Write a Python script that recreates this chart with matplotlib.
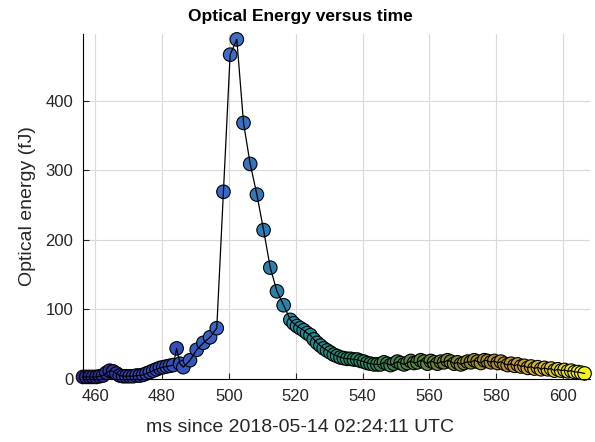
import numpy as np
import matplotlib
matplotlib.use("Agg")
import matplotlib.pyplot as plt
from matplotlib.colors import LinearSegmentedColormap

# event times (ms) and optical energy (fJ)
t_ms = [456.4, 457.4, 458.4, 459.4, 460.4, 461.4, 462.4, 463.4, 464.4, 465.4,
        466.4, 467.4, 468.4, 469.4, 470.4, 471.4, 472.4, 473.4, 474.4, 475.4,
        476.4, 477.4, 478.4, 479.4, 480.4, 481.4, 482.4, 483.4, 484.4, 485.4,
        486.4, 488.4, 490.4, 492.4, 494.4, 496.4,
        498.4, 500.4, 502.4, 504.4, 506.4, 508.4, 510.4, 512.4, 514.4, 516.4,
        518.4, 519.4, 520.4, 521.4, 522.4, 523.4, 524.4, 525.4, 526.4, 527.4,
        528.4, 529.4, 530.4, 531.4, 532.4, 533.4, 534.4, 535.4, 536.4, 537.4,
        538.4, 539.4, 540.4, 541.4, 542.4, 543.4, 544.4, 545.4, 546.4, 547.4,
        548.4, 549.4, 550.4, 551.4, 552.4, 553.4, 554.4, 555.4, 556.4, 557.4,
        558.4, 559.4, 560.4, 561.4, 562.4, 563.4, 564.4, 565.4, 566.4, 567.4,
        568.4, 569.4, 570.4, 571.4, 572.4, 573.4, 574.4, 575.4, 576.4, 577.4,
        578.4, 579.4, 580.4, 581.4, 582.4, 583.4, 584.4, 585.4, 586.4, 587.4,
        588.4, 589.4, 590.4, 591.4, 592.4, 593.4, 594.4, 595.4, 596.4, 597.4,
        598.4, 599.4, 600.4, 601.4, 602.4, 603.4, 604.4, 605.4, 606.4]
energy_fj = [3, 3, 3, 3, 3, 4, 5, 9, 12, 11,
             8, 5, 4, 4, 4, 4, 5, 5, 6, 8,
             10, 12, 14, 16, 17, 18, 19, 20, 44, 22,
             17, 27, 42, 52, 60, 73,
             269, 466, 488, 368, 309, 265, 214, 160, 126, 106,
             85, 80, 76, 73, 70, 66, 63, 57, 52, 48,
             44, 41, 38, 35, 33, 31, 30, 29, 29, 28,
             28, 26, 25, 23, 22, 21, 21, 21, 24, 22,
             20, 22, 25, 23, 21, 23, 26, 23, 24, 27,
             25, 22, 26, 24, 22, 25, 24, 27, 25, 22,
             24, 21, 23, 25, 24, 27, 25, 23, 27, 26,
             24, 26, 23, 25, 22, 20, 22, 19, 21, 18,
             19, 16, 18, 15, 17, 14, 16, 14, 15, 12,
             14, 12, 13, 11, 12, 10, 10, 9, 8]

xticks = [460, 480, 500, 520, 540, 560, 580, 600]
yticks = [0, 100, 200, 300, 400]

# parula-like map
parula = LinearSegmentedColormap.from_list("parula_like", [
    (0.00, (0.18, 0.16, 0.52)),
    (0.15, (0.20, 0.28, 0.72)),
    (0.30, (0.24, 0.43, 0.78)),
    (0.43, (0.13, 0.55, 0.62)),
    (0.57, (0.18, 0.52, 0.36)),
    (0.72, (0.45, 0.52, 0.22)),
    (0.86, (0.75, 0.58, 0.20)),
    (1.00, (0.95, 0.95, 0.12)),
])

plt.rcParams['font.family'] = ['Liberation Sans', 'DejaVu Sans']

fig = plt.figure(figsize=(5.95, 4.42), dpi=100)
ax = fig.add_axes([0.1395, 0.1425, 0.852, 0.781])

ax.scatter(t_ms, energy_fj, s=95, c=t_ms, cmap=parula, edgecolors="black",
           linewidths=0.8, zorder=2, clip_on=False)
ax.plot(t_ms, energy_fj, color="black", lw=0.9, zorder=3, clip_on=False)

ax.set_xlim(456.4, 608)
ax.set_ylim(0, 496)
ax.set_xticks(xticks)
ax.set_yticks(yticks)
ax.grid(True, color="#d9d9d9", lw=0.8)
ax.set_axisbelow(True)
ax.spines["top"].set_visible(False)
ax.spines["right"].set_visible(False)
ax.spines["left"].set_linewidth(0.8)
ax.spines["bottom"].set_linewidth(0.8)
ax.tick_params(direction="in", length=4, width=0.8, labelsize=12,
               colors="#262626", pad=7)

ax.set_title("Optical Energy versus time", fontsize=12.5, fontweight="bold",
             x=0.428, pad=9)
ax.set_xlabel("ms since 2018-05-14 02:24:11 UTC", fontsize=14, color="#262626",
              x=0.428, labelpad=11)
ax.set_ylabel("Optical energy (fJ)", fontsize=14, color="#262626", labelpad=7)

fig.savefig("out.png", dpi=100)
